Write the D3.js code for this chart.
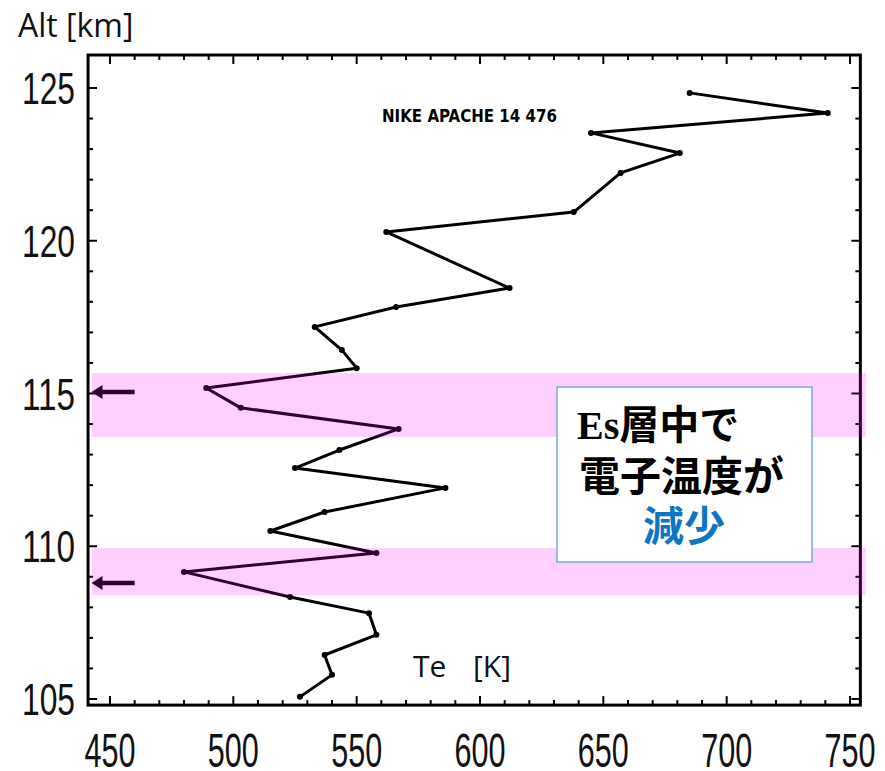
<!DOCTYPE html>
<html>
<head>
<meta charset="utf-8">
<script src="https://cdn.jsdelivr.net/npm/d3@7"></script>
<style>
  body{margin:0;background:#fff;}
  svg{display:block;}
</style>
</head>
<body>
<div class="canvas"></div>
<script>
// values (Nike Apache 14.476)
const altitude=[105.07,105.79,106.44,107.10,107.81,108.34,109.16,109.78,110.50,111.12,111.91,112.56,113.15,113.84,114.53,115.18,115.83,116.42,117.18,117.83,118.45,120.29,120.94,122.22,122.87,123.53,124.18,124.84];
const electronTemp=[527,540,537,558,555,523,480,558,515,537,586,525,543,567,503,489,550,544,533,566,612,562,638,657,681,645,741,685];
const tempTicks=[450,500,550,600,650,700,750];
const altTicks=[105,110,115,120,125];
// Es layers: arrows and shaded bands
const esLayerAlt=[115.05,108.8];
const esBandLow=[113.58,108.40];
const esBandHigh=[115.67,109.94];

const width=885,height=771;
const svg=d3.select('.canvas')
      .append('svg')
        .attr('width',width)
        .attr('height',height);

//scales
const x=d3.scaleLinear().domain([450,750]).range([110,850]);
const y=d3.scaleLinear().domain([105,125]).range([699,88]);
const xFrame=[441.1,754.2];   //edges of the plot box in data units
const yFrame=[104.8,126.08];

const data=altitude.map((a,i)=>({alt:a,t:electronTemp[i]}));

const graph=svg.append('g');

//ticks pointing inwards, minor every 10 K / 1 km
const xMinor=d3.range(450,751,10);
const yMinor=d3.range(105,126,1);
const tickG=graph.append('g').attr('stroke','#000').attr('stroke-width',2);
const addTicks=(vals,isX,atEdge,dir)=>{
  tickG.selectAll(null).data(vals).enter().append('line')
    .attr('x1',d=>isX?x(d):atEdge)
    .attr('x2',d=>isX?x(d):atEdge+dir*((d%5===0)?9:5))
    .attr('y1',d=>isX?atEdge:y(d))
    .attr('y2',d=>isX?atEdge+dir*((d%50===0)?9:5):y(d));
};
addTicks(xMinor,true,y(yFrame[0]),-1);
addTicks(xMinor,true,y(yFrame[1]),1);
addTicks(yMinor,false,x(xFrame[0]),1);
addTicks(yMinor,false,x(xFrame[1]),-1);

//frame
graph.append('rect')
  .attr('x',x(xFrame[0]))
  .attr('y',y(yFrame[1]))
  .attr('width',x(xFrame[1])-x(xFrame[0]))
  .attr('height',y(yFrame[0])-y(yFrame[1]))
  .attr('fill','none')
  .attr('stroke','#000')
  .attr('stroke-width',3);

//profile line
const line=d3.line().x(d=>x(d.t)).y(d=>y(d.alt));
graph.append('path')
  .datum(data)
  .attr('d',line)
  .attr('fill','none')
  .attr('stroke','#000')
  .attr('stroke-width',3)
  .attr('stroke-linejoin','round');
graph.selectAll('circle').data(data).enter().append('circle')
  .attr('cx',d=>x(d.t))
  .attr('cy',d=>y(d.alt))
  .attr('r',3)
  .attr('fill','#000');

//arrows marking the Es layers
esLayerAlt.forEach(a=>{
  const x0=x(442.5),x1=x(460),yy=y(a);
  graph.append('line')
    .attr('x1',x0+8).attr('x2',x1)
    .attr('y1',yy).attr('y2',yy)
    .attr('stroke','#000').attr('stroke-width',4.5);
  graph.append('path')
    .attr('d',`M${x0},${yy} L${x0+11},${yy-7} L${x0+11},${yy+7} Z`)
    .attr('fill','#000');
});

//NIKE label
graph.append('text')
  .attr('x',382).attr('y',122)
  .attr('textLength',175)
  .attr('lengthAdjust','spacingAndGlyphs')
  .style('font-family','"DejaVu Sans Condensed","DejaVu Sans",sans-serif')
  .style('font-weight','bold')
  .style('font-size','17px')
  .text('NIKE  APACHE  14 476');

//pink Es bands (semi transparent, over the line)
graph.selectAll('rect.band').data(esBandLow).enter().append('rect')
  .attr('class','band')
  .attr('x',x(442.6))
  .attr('width',x(756.4)-x(442.6))
  .attr('y',(d,i)=>y(esBandHigh[i]))
  .attr('height',(d,i)=>y(d)-y(esBandHigh[i]))
  .attr('fill','#ff00ff')
  .attr('fill-opacity',0.185);

//annotation box
const box=graph.append('g');
box.append('rect')
  .attr('x',557).attr('y',387)
  .attr('width',255).attr('height',175)
  .attr('fill','#fff')
  .attr('stroke','#76a5f0')
  .attr('stroke-width',1.5);
const cjk='"Noto Sans CJK JP",sans-serif';
const l1=box.append('text').attr('x',577).attr('y',439)
  .style('font-size','40px').style('font-weight','bold');
l1.append('tspan').style('font-family','"Liberation Serif","Times New Roman",serif').text('Es');
l1.append('tspan').style('font-family',cjk).text('層中で');
box.append('text').attr('x',579).attr('y',491)
  .style('font-family',cjk).style('font-size','41px').style('font-weight','bold')
  .text('電子温度が');
box.append('text').attr('x',684).attr('y',541)
  .attr('text-anchor','middle')
  .style('font-family',cjk).style('font-size','41px').style('font-weight','bold')
  .attr('fill','#0e75c4')
  .text('減少');

//axis titles
svg.append('text')
  .attr('x',18).attr('y',37)
  .style('font-family','"Open Sans",sans-serif')
  .style('font-size','32px')
  .attr('fill','#111')
  .text('Alt [km]');
const te=svg.append('text')
  .attr('y',677)
  .style('font-family','"Open Sans",sans-serif')
  .style('font-size','30px')
  .attr('fill','#111');
te.append('tspan').attr('x',413).text('Te');
te.append('tspan').attr('x',473).text('[K]');

//tick labels (tall, condensed)
svg.selectAll('text.ylab').data(altTicks).enter().append('text')
  .attr('class','ylab')
  .attr('x',22)
  .attr('y',d=>y(d)+16)
  .attr('textLength',53)
  .attr('lengthAdjust','spacingAndGlyphs')
  .style('font-family','"Liberation Sans",Arial,sans-serif')
  .style('font-size','44px')
  .attr('fill','#111')
  .text(d=>d);
svg.selectAll('text.xlab').data(tempTicks).enter().append('text')
  .attr('class','xlab')
  .attr('x',d=>x(d)-25.5)
  .attr('y',767)
  .attr('textLength',51)
  .attr('lengthAdjust','spacingAndGlyphs')
  .style('font-family','"Liberation Sans",Arial,sans-serif')
  .style('font-size','49px')
  .attr('fill','#111')
  .text(d=>d);
</script>
</body>
</html>
